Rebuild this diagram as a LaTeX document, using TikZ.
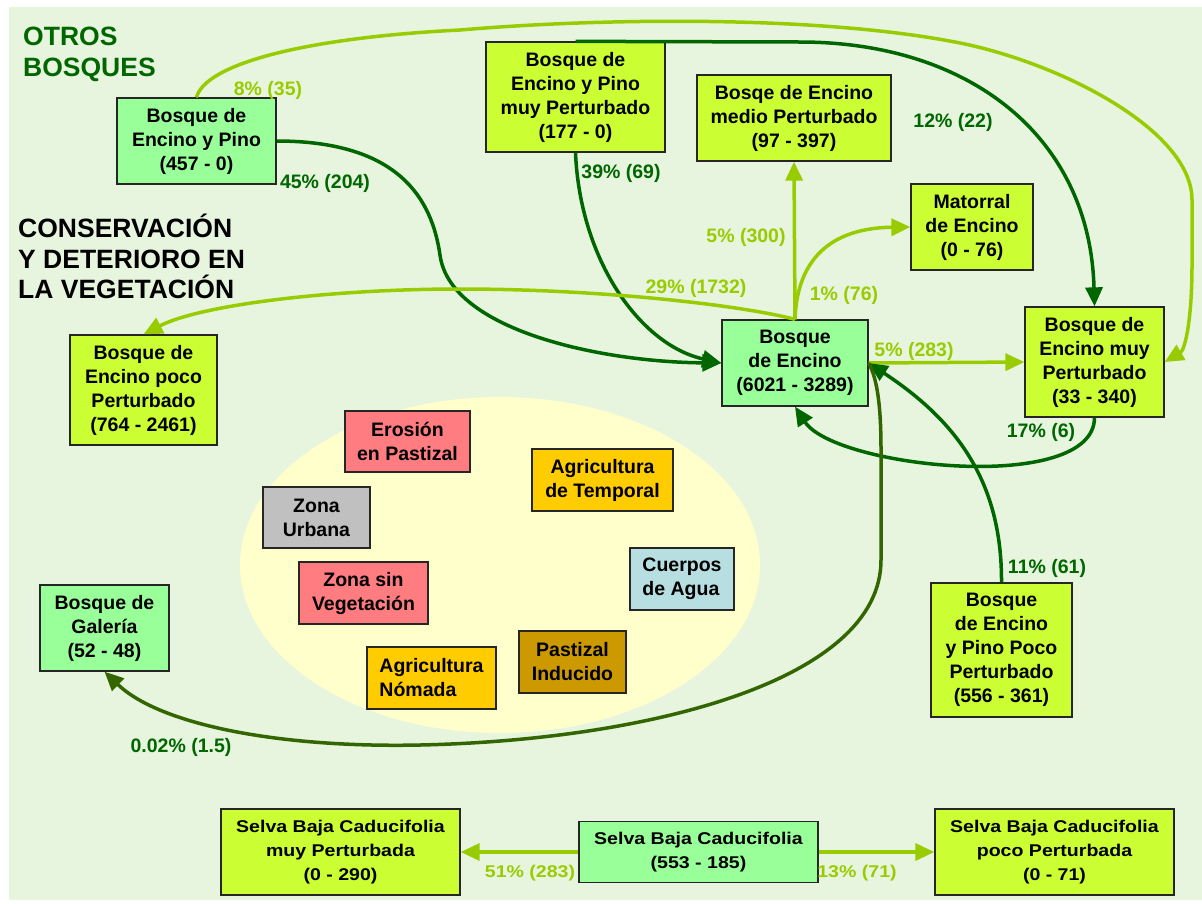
\documentclass[tikz,border=0pt]{standalone}
\usepackage{fontspec}
\setmainfont{Liberation Sans}
\newfontfamily\selvafont{Liberation Sans}[FakeStretch=1.15]
\usetikzlibrary{arrows.meta}
\definecolor{fondo}{HTML}{E7F5DF}
\definecolor{crema}{HTML}{FFFFCC}
\definecolor{verdecaja}{HTML}{99FF99}
\definecolor{limacaja}{HTML}{CCFF33}
\definecolor{rosa}{HTML}{FF7C80}
\definecolor{naranja}{HTML}{FFCC00}
\definecolor{gris}{HTML}{C0C0C0}
\definecolor{celeste}{HTML}{B7DEE0}
\definecolor{pardo}{HTML}{CC9900}
\definecolor{verdeosc}{HTML}{006600}
\definecolor{verdecla}{HTML}{99CC00}
\definecolor{oliva}{HTML}{336600}
\tikzset{
  >={Triangle[length=19pt,width=17pt]},
  % cajas
  caja/.style={draw=black!85,line width=1.3pt,inner sep=0pt,align=center,
               font=\fontsize{19.5}{24}\selectfont\bfseries},
  sz/.style 2 args={minimum width=#1pt,minimum height=#2pt},
  vv/.style={caja,fill=verdecaja},
  va/.style={caja,fill=limacaja},
  selva/.style={font=\selvafont\fontsize{17}{24}\selectfont\bfseries},
  uso/.style={caja,fill=#1},
  % flujos
  fo/.style={->,draw=verdeosc,line width=3.5pt},
  fc/.style={->,draw=verdecla,line width=3.5pt},
  fa/.style={->,draw=oliva,line width=3.5pt},
  lo/.style={anchor=base,inner sep=0pt,text=verdeosc,
             font=\fontsize{19.5}{22}\selectfont\bfseries},
  lc/.style={anchor=base,inner sep=0pt,text=verdecla,
             font=\fontsize{19.5}{22}\selectfont\bfseries},
  ls/.style={anchor=base,inner sep=0pt,text=verdecla,
             font=\selvafont\fontsize{17}{22}\selectfont\bfseries},
  titulo/.style={anchor=north west,inner sep=0pt,align=left,
                 font=\fontsize{26.5}{30.5}\selectfont\bfseries},
}
\begin{document}
\begin{tikzpicture}[x=1pt,y=-1pt]
\useasboundingbox (0,0) rectangle (1202,903);
\fill[fondo] (9,7) rectangle (1202,900);
\fill[crema] (500,565) ellipse [x radius=260, y radius=168];
% titulos
\node[titulo,text=verdeosc] (otros) at (23,27) {OTROS\\BOSQUES};
\node[titulo] (cons) at (18,214) {CONSERVACIÓN\\Y DETERIORO EN\\LA VEGETACIÓN};
% bosques
\node[vv,sz={159}{86}] (ep) at (196.5,141) {Bosque de\\Encino y Pino\\(457 - 0)};
\node[va,sz={179}{110}] (epmp) at (575.5,97) {Bosque de\\Encino y Pino\\muy Perturbado\\(177 - 0)};
\node[va,sz={194}{86}] (emp) at (794,118) {Bosqe de Encino\\medio Perturbado\\(97 - 397)};
\node[va,sz={122}{86}] (mat) at (972,227) {Matorral\\de Encino\\(0 - 76)};
\node[vv,sz={146}{86}] (enc) at (795,363) {Bosque\\de Encino\\(6021 - 3289)};
\node[va,sz={139}{110}] (enmp) at (1094.5,362) {Bosque de\\Encino muy\\Perturbado\\(33 - 340)};
\node[va,sz={147}{110}] (epp) at (143.5,390) {Bosque de\\Encino poco\\Perturbado\\(764 - 2461)};
\node[vv,sz={129}{86}] (gal) at (104.5,628) {Bosque de\\Galería\\(52 - 48)};
\node[va,sz={141}{134}] (eppp) at (1001.5,650) {Bosque\\de Encino\\y Pino Poco\\Perturbado\\(556 - 361)};
% selvas
\node[vv,selva,sz={239}{61}] (sel) at (698.5,852) {Selva Baja Caducifolia\\(553 - 185)};
\node[va,selva,sz={239}{86}] (selm) at (340.5,852) {Selva Baja Caducifolia\\muy Perturbada\\(0 - 290)};
\node[va,selva,sz={239}{86}] (selp) at (1054.5,852) {Selva Baja Caducifolia\\poco Perturbada\\(0 - 71)};
% usos del suelo
\node[uso=rosa,sz={125}{61}] (ero) at (407.5,441.5) {Erosión\\en Pastizal};
\node[uso=naranja,sz={141}{62}] (tem) at (602.5,480) {Agricultura\\de Temporal};
\node[uso=gris,sz={107}{61}] (urb) at (316.5,517.5) {Zona\\Urbana};
\node[uso=rosa,sz={129}{62}] (sinv) at (363.5,593) {Zona sin\\Vegetación};
\node[uso=celeste,sz={104}{62},align=left] (agua) at (682,579) {Cuerpos\\de Agua};
\node[uso=naranja,sz={129}{62},align=left] (nom) at (431.5,678) {Agricultura\\Nómada};
\node[uso=pardo,sz={107}{62}] (ind) at (572.5,662) {Pastizal\\Inducido};
% flujos
\draw[fc] (ep.north) .. controls (205,65) and (300,38) .. (460,30)
  .. controls (600,18) and (820,15) .. (960,43)
  .. controls (1060,63) and (1192,130) .. (1192,200) -- (1192,265)
  .. controls (1192,320) and (1185,350) .. (enmp.east);
\draw[fo] (epmp.north) -- (800,42) .. controls (970,42) and (1090,137) .. (enmp.north);
\draw[fo] (ep.east) .. controls (400,141) and (432,200) .. (440,255)
  .. controls (450,330) and (600,362) .. (enc.west);
\draw[fo] (epmp.south) .. controls (580,260) and (640,345) .. (enc.west);
\draw[fc] (enc.north) -- (emp.south);
\draw[fc] (enc.north) .. controls (797,260) and (830,228) .. (mat.west);
\draw[fc] (enc.north) .. controls (740,305) and (600,289) .. (460,289)
  .. controls (330,289) and (200,305) .. (epp.north);
\draw[fc] (enc.east) -- (enmp.west);
\draw[fo] (enmp.south) .. controls (1094,495) and (835,468) .. (enc.south);
\draw[fo] (eppp.north) .. controls (1002,480) and (955,420) .. (enc.east);
\draw[fa] (enc.east) .. controls (878,380) and (881,410) .. (881,450) -- (881,560)
  .. controls (881,680) and (650,740) .. (420,745)
  .. controls (280,748) and (160,725) .. (gal.south);
\draw[fc] (sel.west) -- (selm.east);
\draw[fc] (sel.east) -- (selp.west);
% porcentajes
\node[lc] (l8) at (268,95) {8\% (35)};
\node[lo] (l45) at (325,188) {45\% (204)};
\node[lo] (l39) at (621,178) {39\% (69)};
\node[lo] (l12) at (953,127) {12\% (22)};
\node[lc] (l5a) at (746,242) {5\% (300)};
\node[lc] (l29) at (696,293) {29\% (1732)};
\node[lc] (l1) at (844,300) {1\% (76)};
\node[lc] (l5b) at (914,356) {5\% (283)};
\node[lo] (l17) at (1041,437) {17\% (6)};
\node[lo] (l11) at (1047,573) {11\% (61)};
\node[lo] (l002) at (181,752) {0.02\% (1.5)};
\node[ls] (l51) at (530,877) {51\% (283)};
\node[ls] (l13) at (857,877) {13\% (71)};
\end{tikzpicture}
\end{document}
